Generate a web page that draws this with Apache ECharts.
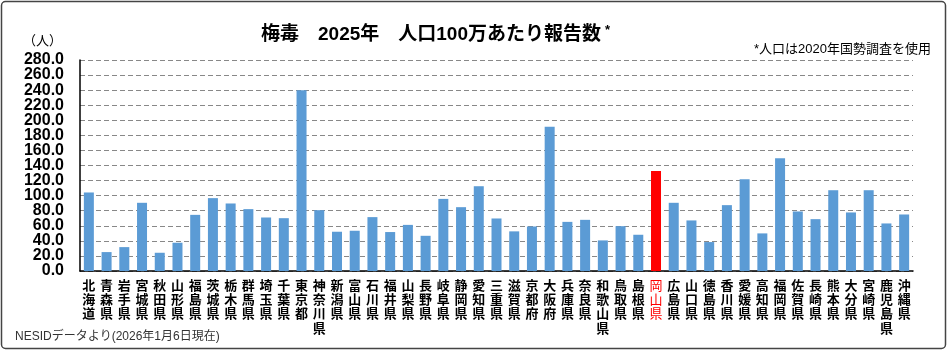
<!DOCTYPE html>
<html>
<head>
<meta charset="utf-8">
<script src="https://cdn.jsdelivr.net/npm/echarts@6/dist/echarts.min.js"></script>
<style>
  html, body { margin: 0; padding: 0; background: #fff; }
  #chart { width: 950px; height: 351px; }
</style>
</head>
<body>
<div id="chart"></div>
<script>
// 梅毒 2025年 都道府県別 人口100万あたり報告数（図から読み取った概算値）
var prefectures = [
  '北海道', '青森県', '岩手県', '宮城県', '秋田県', '山形県', '福島県', '茨城県',
  '栃木県', '群馬県', '埼玉県', '千葉県', '東京都', '神奈川県', '新潟県', '富山県',
  '石川県', '福井県', '山梨県', '長野県', '岐阜県', '静岡県', '愛知県', '三重県',
  '滋賀県', '京都府', '大阪府', '兵庫県', '奈良県', '和歌山県', '鳥取県', '島根県',
  '岡山県', '広島県', '山口県', '徳島県', '香川県', '愛媛県', '高知県', '福岡県',
  '佐賀県', '長崎県', '熊本県', '大分県', '宮崎県', '鹿児島県', '沖縄県'
];
var ratePerMillion = [
  104.2, 25.1, 31.7, 90.5, 24.2, 37.5, 74.5, 96.7,
  89.6, 82.1, 71.0, 70.1, 240.0, 80.7, 52.1, 53.4,
  71.5, 51.7, 61.2, 46.7, 95.7, 84.7, 112.5, 69.7,
  52.6, 59.1, 191.5, 65.2, 67.9, 40.6, 59.5, 48.1,
  132.8, 90.5, 67.1, 38.4, 87.4, 121.8, 49.9, 149.6,
  79.0, 68.8, 107.2, 77.7, 107.2, 63.1, 75.0
];
var highlightPref = '岡山県';
var yTicks = { min: 0, max: 280, interval: 20 };

var BAR = '#5B9BD5';
var HIGHLIGHT = '#FF0000';
var FONT = "'Liberation Sans', 'Noto Sans CJK JP', sans-serif";

var yLabelStyle = {
  margin: 16, fontSize: 16, fontWeight: 'bold', color: '#000', fontFamily: FONT,
  formatter: function (v) { return v.toFixed(1); }
};

var chart = echarts.init(document.getElementById('chart'));
chart.setOption({
  backgroundColor: '#fff',
  animation: false,
  textStyle: { fontFamily: FONT },
  title: [
    {
      text: '梅毒　2025年　人口100万あたり報告数{s|*}',
      left: 256, top: 19,
      textStyle: {
        fontSize: 19, fontWeight: 'bold', color: '#000', fontFamily: FONT,
        rich: { s: { fontSize: 13, fontWeight: 'bold', color: '#000', verticalAlign: 'top', padding: [0, 0, 8, 4] } }
      }
    },
    {
      text: '*人口は2020年国勢調査を使用',
      right: 14, top: 38,
      textStyle: { fontSize: 13, fontWeight: 'normal', color: '#000', fontFamily: FONT }
    },
    {
      text: '（人）',
      left: 18, top: 30,
      textStyle: { fontSize: 13, fontWeight: 'normal', color: '#000', fontFamily: FONT }
    },
    {
      text: 'NESIDデータより(2026年1月6日現在)',
      left: 10, top: 326,
      textStyle: { fontSize: 12, fontWeight: 'normal', color: '#333', fontFamily: FONT }
    }
  ],
  graphic: [{
    type: 'rect', silent: true, z: -1,
    shape: { x: 1.5, y: 1.5, width: 944, height: 347, r: 4 },
    style: { fill: 'none', stroke: '#444', lineWidth: 1.5 }
  }],
  grid: { left: 80, right: 37, top: 60, bottom: 80, containLabel: false },
  xAxis: {
    type: 'category',
    data: prefectures,
    axisLine: { lineStyle: { color: '#000', width: 1.5 } },
    axisTick: { show: false },
    axisLabel: {
      interval: 0, margin: 8,
      fontSize: 13, fontWeight: 'bold', color: '#000', lineHeight: 14.3,
      verticalAlign: 'top',
      formatter: function (v) {
        var s = v.split('').join('\n');
        return v === highlightPref ? '{r|' + s + '}' : s;
      },
      rich: {
        r: { color: HIGHLIGHT, fontSize: 13, fontWeight: 'normal', lineHeight: 14.3, fontFamily: FONT }
      }
    }
  },
  yAxis: [
    {
      // main axis: gridlines and inner labels (20.0 – 260.0)
      type: 'value', position: 'left',
      min: yTicks.min, max: yTicks.max, interval: yTicks.interval,
      axisLine: { show: true, lineStyle: { color: '#000', width: 1.5 } },
      axisTick: { show: false },
      axisLabel: Object.assign({ showMinLabel: false, showMaxLabel: false }, yLabelStyle),
      splitLine: { lineStyle: { color: '#888', type: [5, 3], width: 1 } }
    },
    {
      // same scale, only the end labels (0.0 and 280.0) so they are not dropped as overlapping
      type: 'value', position: 'left', offset: 0,
      min: yTicks.min, max: yTicks.max, interval: yTicks.max - yTicks.min,
      axisLine: { show: false },
      axisTick: { show: false },
      axisLabel: yLabelStyle,
      splitLine: { show: false }
    }
  ],
  series: [{
    type: 'bar',
    yAxisIndex: 0,
    barWidth: 10,
    data: ratePerMillion.map(function (v, i) {
      return {
        value: v,
        itemStyle: { color: prefectures[i] === highlightPref ? HIGHLIGHT : BAR }
      };
    })
  }]
});
</script>
</body>
</html>
